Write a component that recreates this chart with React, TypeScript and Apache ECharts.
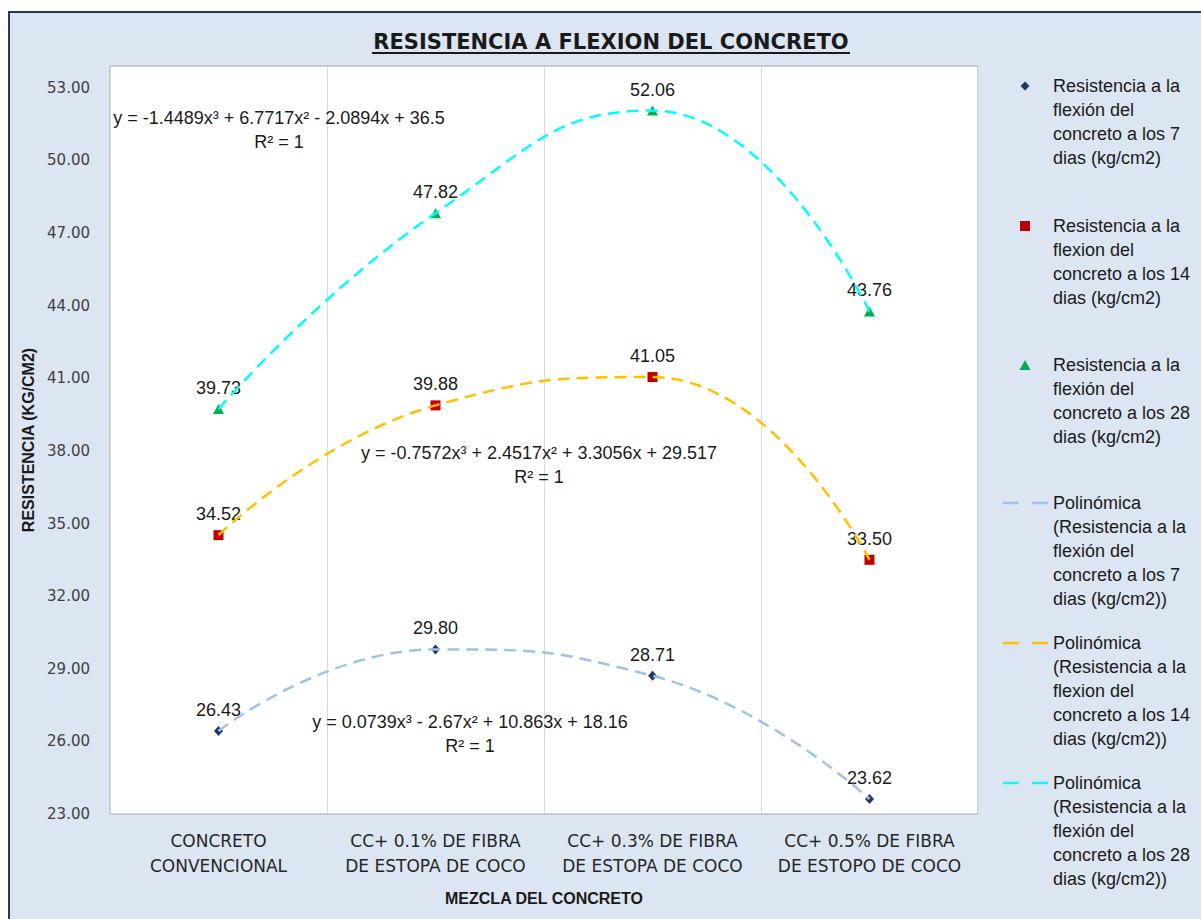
import React, { useEffect, useRef } from "react";
import * as echarts from "echarts";

const categories = [
  "CONCRETO\nCONVENCIONAL",
  "CC+ 0.1% DE FIBRA\nDE ESTOPA DE COCO",
  "CC+ 0.3% DE FIBRA\nDE ESTOPA DE COCO",
  "CC+ 0.5% DE FIBRA\nDE ESTOPO DE COCO",
];
const dias7 = [26.43, 29.8, 28.71, 23.62];
const dias14 = [34.52, 39.88, 41.05, 33.5];
const dias28 = [39.73, 47.82, 52.06, 43.76];

const yMin = 23;
const yMax = 53.9;
const yStep = 3;

const title = "RESISTENCIA A FLEXION DEL CONCRETO";
const xName = "MEZCLA DEL CONCRETO";
const yName = "RESISTENCIA (KG/CM2)";

const names = [
  "Resistencia a la\nflexión del\nconcreto a los 7\ndias (kg/cm2)",
  "Resistencia a la\nflexion del\nconcreto a los 14\ndias (kg/cm2)",
  "Resistencia a la\nflexión del\nconcreto a los 28\ndias (kg/cm2)",
  "Polinómica\n(Resistencia a la\nflexión del\nconcreto a los 7\ndias (kg/cm2))",
  "Polinómica\n(Resistencia a la\nflexion del\nconcreto a los 14\ndias (kg/cm2))",
  "Polinómica\n(Resistencia a la\nflexión del\nconcreto a los 28\ndias (kg/cm2))",
];

const equations = [
  "y = -1.4489x³ + 6.7717x² - 2.0894x + 36.5\nR² = 1",
  "y = -0.7572x³ + 2.4517x² + 3.3056x + 29.517\nR² = 1",
  "y = 0.0739x³ - 2.67x² + 10.863x + 18.16\nR² = 1",
];

const markerColors = ["#1f3864", "#c00000", "#00b050"];
const trendColors = ["#9dc3e6", "#ffc000", "#00ffff"];

export default function App() {
  const ref = useRef<HTMLDivElement>(null);

  useEffect(() => {
    if (!ref.current) return;
    const chart = echarts.init(ref.current, null, { renderer: "svg" });
    const txtFont = "'Liberation Sans', Arial, sans-serif";
    const dataSets = [dias7, dias14, dias28];
    const symbols = ["diamond", "rect", "triangle"];
    const symbolSizes: any[] = [[9, 10], 10, [11, 10]];

    const scatterSeries = dataSets.map((d, i) => ({
      type: "scatter",
      name: names[i],
      data: d,
      symbol: symbols[i],
      symbolSize: symbolSizes[i],
      itemStyle: { color: markerColors[i], opacity: 1 },
      z: 2,
      label: {
        show: true,
        position: "top",
        distance: 7,
        formatter: (p: any) => Number(p.value).toFixed(2),
        fontSize: 18,
        color: "#1a1a1a",
        fontFamily: txtFont,
      },
    }));

    const trendSeries = dataSets.map((d, i) => ({
      type: "line",
      name: names[i + 3],
      data: d,
      smooth: 0.5,
      symbol: "none",
      showSymbol: false,
      silent: true,
      z: 4,
      lineStyle: { color: trendColors[i], width: 2.5, type: [12, 7] },
    }));

    const legendY = [73, 213, 352, 490, 630, 770];
    const legendGraphics: any[] = [];
    const iconX = 1015;
    legendGraphics.push({
      type: "polygon",
      shape: { points: [[iconX, legendY[0] - 4.5], [iconX + 4.5, legendY[0]], [iconX, legendY[0] + 4.5], [iconX - 4.5, legendY[0]]] },
      style: { fill: markerColors[0] },
    });
    legendGraphics.push({
      type: "rect",
      shape: { x: iconX - 5, y: legendY[1] - 5, width: 10, height: 10 },
      style: { fill: markerColors[1] },
    });
    legendGraphics.push({
      type: "polygon",
      shape: { points: [[iconX, legendY[2] - 5], [iconX + 5.5, legendY[2] + 5], [iconX - 5.5, legendY[2] + 5]] },
      style: { fill: markerColors[2] },
    });
    for (let i = 0; i < 3; i++) {
      legendGraphics.push({
        type: "line",
        shape: { x1: 993, y1: legendY[i + 3], x2: 1038, y2: legendY[i + 3] },
        style: { stroke: trendColors[i], lineWidth: 2.5, lineDash: [16, 13] },
      });
    }
    names.forEach((n, i) => {
      legendGraphics.push({
        type: "text",
        x: 1043,
        y: legendY[i] - 12,
        style: {
          text: n,
          fontSize: 18,
          lineHeight: 24,
          fill: "#1a1a1a",
          fontFamily: txtFont,
          textAlign: "left",
          textVerticalAlign: "top",
          verticalAlign: "top",
        },
      });
    });

    const eqPos = [
      [269, 93],
      [529, 428],
      [460, 697],
    ];
    const eqGraphics = equations.map((e, i) => ({
      type: "text",
      x: eqPos[i][0],
      y: eqPos[i][1],
      z: 10,
      style: {
        text: e,
        fontSize: 18,
        lineHeight: 24,
        fill: "#1a1a1a",
        fontFamily: txtFont,
        align: "center",
        textAlign: "center",
        verticalAlign: "top",
        textVerticalAlign: "top",
      },
    }));

    chart.setOption({
      animation: false,
      backgroundColor: "transparent",
      grid: {
        left: 100,
        top: 53,
        right: 223,
        bottom: 105,
        show: true,
        backgroundColor: "#ffffff",
        borderColor: "#a6a6a6",
        borderWidth: 1,
      },
      xAxis: {
        type: "category",
        data: categories,
        boundaryGap: true,
        name: xName,
        nameLocation: "middle",
        nameGap: 76,
        nameTextStyle: {
          fontSize: 16,
          fontWeight: "bold",
          color: "#1a1a1a",
          fontFamily: txtFont,
        },
        axisLine: { show: false },
        axisTick: { show: false },
        splitLine: { show: true, interval: 0, lineStyle: { color: "#d9d9d9", width: 1 } },
        axisLabel: {
          interval: 0,
          margin: 14,
          fontSize: 17,
          lineHeight: 25,
          color: "#262626",
          fontFamily: "'DejaVu Sans', sans-serif",
        },
      },
      yAxis: {
        type: "value",
        min: yMin,
        max: yMax,
        interval: yStep,
        name: yName,
        nameLocation: "middle",
        nameGap: 73,
        nameTextStyle: {
          fontSize: 16,
          fontWeight: "bold",
          color: "#1a1a1a",
          fontFamily: txtFont,
        },
        axisLine: { show: false },
        axisTick: { show: false },
        splitLine: { show: false },
        axisLabel: {
          showMaxLabel: false,
          margin: 20,
          fontSize: 15,
          color: "#404040",
          fontFamily: "'DejaVu Sans', sans-serif",
          formatter: (v: number) => v.toFixed(2),
        },
      },
      series: [...scatterSeries, ...trendSeries],
      graphic: [
        {
          type: "text",
          x: 601,
          y: 29,
          style: {
            text: title,
            fontSize: 21,
            fontWeight: "bold",
            fill: "#1a1a1a",
            fontFamily: "'DejaVu Sans', sans-serif",
            align: "center",
            textAlign: "center",
            verticalAlign: "middle",
            textVerticalAlign: "middle",
          },
        },
        {
          type: "line",
          shape: { x1: 362, y1: 40, x2: 840, y2: 40 },
          style: { stroke: "#1a1a1a", lineWidth: 1.8 },
        },
        ...legendGraphics,
        ...eqGraphics,
      ],
    });
    return () => chart.dispose();
  }, []);

  return (
    <div
      style={{
        position: "fixed",
        left: 8,
        top: 11,
        width: 1193,
        height: 908,
        boxSizing: "border-box",
        borderLeft: "2px solid #1f3864",
        borderTop: "2px solid #1f3864",
        background: "#dce6f2",
      }}
    >
      <div ref={ref} style={{ width: 1191, height: 906 }} />
    </div>
  );
}
